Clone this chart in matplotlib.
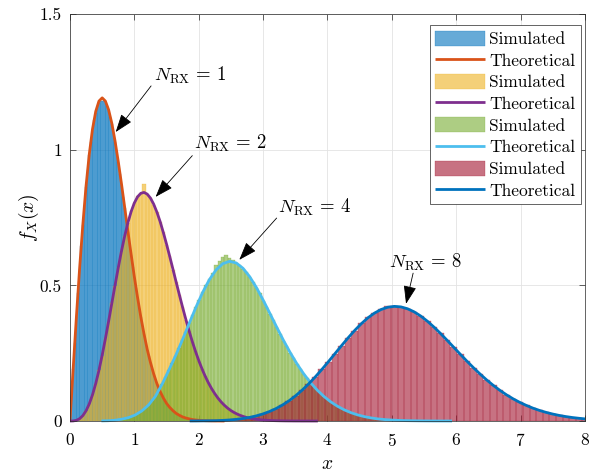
import numpy as np
import matplotlib
matplotlib.use("Agg")
import matplotlib.pyplot as plt
from matplotlib.transforms import Bbox, TransformedBbox

plt.rcParams.update({
    "font.family": "serif",
    "font.serif": ["cmr10"],
    "mathtext.fontset": "cm",
    "axes.formatter.use_mathtext": True,
    "font.size": 12.5,
})

# ---- data (pdf values) ----
n_rx = [1, 2, 4, 8]

# simulated histograms: first bin centre, bin width, bin heights
sim1_start, sim1_step = 0.025, 0.025
sim1 = [0.096, 0.193, 0.288, 0.383, 0.472, 0.560, 0.645, 0.721, 0.796, 0.862, 0.925, 0.979,
        1.030, 1.070, 1.108, 1.136, 1.160, 1.172, 1.184, 1.180, 1.184, 1.172, 1.160, 1.142,
        1.120, 1.093, 1.062, 1.029, 0.992, 0.953, 0.912, 0.871, 0.826, 0.784, 0.739, 0.697,
        0.652, 0.611, 0.568, 0.529, 0.490, 0.453, 0.416, 0.383, 0.350, 0.319, 0.290, 0.263,
        0.238, 0.215, 0.193, 0.173, 0.154, 0.137, 0.122, 0.108, 0.095, 0.084, 0.074, 0.065,
        0.056, 0.049, 0.043, 0.037, 0.032, 0.028, 0.024, 0.021, 0.018, 0.015, 0.013, 0.011,
        0.0093, 0.008, 0.0066, 0.0055, 0.0047, 0.0038, 0.0033, 0.0027, 0.0022, 0.0018,
        0.0015, 0.0012, 0.0010, 0.0008, 0.0007, 0.0005]

sim2_start, sim2_step = 0.05, 0.05
sim2 = [0.0003, 0.0026, 0.0088, 0.0195, 0.0384, 0.0628, 0.0972, 0.1371, 0.1880, 0.2410,
        0.3045, 0.3660, 0.4350, 0.4990, 0.5670, 0.6245, 0.6835, 0.7290, 0.7735, 0.8020,
        0.8280, 0.8370, 0.8720, 0.8340, 0.8230, 0.7975, 0.7715, 0.7335, 0.6960, 0.6500,
        0.6075, 0.5570, 0.5125, 0.4630, 0.4195, 0.3730, 0.3335, 0.2915, 0.2575, 0.2220,
        0.1935, 0.1645, 0.1415, 0.1185, 0.1010, 0.0835, 0.0700, 0.0572, 0.0476, 0.0382,
        0.0316, 0.0250, 0.0204, 0.0160, 0.0128, 0.0100, 0.0079, 0.0060, 0.0047, 0.0036,
        0.0027, 0.0021, 0.0016, 0.0012, 0.0009, 0.0007]

sim4_start, sim4_step = 0.697, 0.0523665
sim4 = [0.0029, 0.0046, 0.0067, 0.0093, 0.0124, 0.0168, 0.0220, 0.0292, 0.0372, 0.0476,
        0.0592, 0.0742, 0.0907, 0.1125, 0.1356, 0.1612, 0.1875, 0.2140, 0.2405, 0.2700,
        0.2990, 0.3280, 0.3595, 0.3890, 0.4190, 0.4475, 0.4750, 0.4995, 0.5240, 0.5440,
        0.5750, 0.5900, 0.6050, 0.6120, 0.6000, 0.5920, 0.5830, 0.5740, 0.5610, 0.5490,
        0.5300, 0.5130, 0.4900, 0.4700, 0.4440, 0.4215, 0.3950, 0.3720, 0.3450, 0.3225,
        0.2965, 0.2755, 0.2515, 0.2320, 0.2100, 0.1930, 0.1735, 0.1585, 0.1410, 0.1285,
        0.1135, 0.1025, 0.0902, 0.0808, 0.0705, 0.0628, 0.0545, 0.0479, 0.0412, 0.0360,
        0.0308, 0.0266, 0.0225, 0.0193, 0.0161, 0.0137, 0.0114, 0.0095, 0.0078, 0.0065,
        0.0053, 0.0044, 0.0036, 0.0030, 0.0024, 0.0019, 0.0015]

sim8_start, sim8_step = 1.9625, 0.102514
sim8 = [0.0003, 0.0006, 0.0009, 0.0014, 0.0023, 0.0039, 0.0061, 0.0092, 0.0128, 0.0186,
        0.0251, 0.0346, 0.0447, 0.0586, 0.0735, 0.0926, 0.1126, 0.1370, 0.1615, 0.1900,
        0.2178, 0.2488, 0.2772, 0.3072, 0.3335, 0.3595, 0.3815, 0.3990, 0.4135, 0.4230,
        0.4255, 0.4215, 0.4130, 0.4030, 0.3862, 0.3688, 0.3455, 0.3232, 0.2968, 0.2722,
        0.2452, 0.2210, 0.1958, 0.1735, 0.1508, 0.1316, 0.1126, 0.0968, 0.0815, 0.0690,
        0.0573, 0.0477, 0.0388, 0.0320, 0.0255, 0.0207, 0.0162, 0.0129, 0.0099, 0.0077,
        0.0058, 0.0044]

# theoretical curves: first x, x step, pdf values
th1_start, th1_step = 0.0, 0.05
th1 = [0.0, 0.195, 0.385, 0.564, 0.725, 0.867, 0.984, 1.076, 1.141, 1.179, 1.191, 1.179,
       1.147, 1.097, 1.032, 0.956, 0.874, 0.787, 0.699, 0.614, 0.531, 0.455, 0.384, 0.321,
       0.264, 0.216, 0.174, 0.138, 0.109, 0.085, 0.065, 0.050, 0.038, 0.028, 0.021, 0.015,
       0.011, 0.008, 0.0055, 0.0038, 0.0027, 0.0018, 0.0012, 0.0008, 0.0005, 0.0003, 0.0002,
       0.0001, 0.0]

th2_start, th2_step = 0.0, 0.05
th2 = [0.0, 0.0003, 0.0025, 0.0086, 0.0199, 0.0379, 0.0633, 0.0967, 0.1380, 0.1870, 0.2424,
       0.3031, 0.3675, 0.4339, 0.5005, 0.5653, 0.6263, 0.6819, 0.7310, 0.7719, 0.8038, 0.8264,
       0.8392, 0.8425, 0.8362, 0.8216, 0.7992, 0.7699, 0.7351, 0.6947, 0.6517, 0.6059, 0.5588,
       0.5112, 0.4643, 0.4184, 0.3741, 0.3322, 0.2929, 0.2565, 0.2230, 0.1926, 0.1652, 0.1408,
       0.1193, 0.1005, 0.0839, 0.0697, 0.0576, 0.0472, 0.0385, 0.0313, 0.0252, 0.0202, 0.0161,
       0.0127, 0.0101, 0.0078, 0.0061, 0.0047, 0.0036, 0.0027, 0.0021, 0.0016, 0.0012, 0.0009,
       0.0007, 0.0005, 0.0004, 0.0003, 0.0002, 0.0002, 0.0001, 0.0001, 0.0001, 0.0, 0.0, 0.0]

th4_start, th4_step = 0.488, 0.104733
th4 = [0.0004, 0.0010, 0.0029, 0.0067, 0.0124, 0.0220, 0.0372, 0.0592, 0.0907, 0.1356, 0.1875,
       0.2405, 0.2984, 0.3586, 0.4180, 0.4732, 0.5204, 0.5567, 0.5799, 0.5885, 0.5825, 0.5629,
       0.5317, 0.4915, 0.4453, 0.3959, 0.3459, 0.2975, 0.2522, 0.2108, 0.1740, 0.1418, 0.1141,
       0.0906, 0.0709, 0.0547, 0.0414, 0.0309, 0.0226, 0.0162, 0.0114, 0.0078, 0.0053, 0.0036,
       0.0024, 0.0015, 0.0010, 0.0006, 0.0004, 0.0002, 0.0001, 0.0001, 0.0]

th8_start, th8_step = 1.86, 0.102514
th8 = [0.0002, 0.0003, 0.0006, 0.0009, 0.0013, 0.0023, 0.0038, 0.0060, 0.0090, 0.0130, 0.0184,
       0.0254, 0.0342, 0.0450, 0.0582, 0.0738, 0.0922, 0.1130, 0.1364, 0.1620, 0.1894, 0.2183,
       0.2481, 0.2777, 0.3066, 0.3339, 0.3587, 0.3803, 0.3979, 0.4110, 0.4193, 0.4225, 0.4206,
       0.4137, 0.4024, 0.3869, 0.3680, 0.3463, 0.3226, 0.2975, 0.2718, 0.2459, 0.2206, 0.1962,
       0.1730, 0.1512, 0.1312, 0.1130, 0.0965, 0.0818, 0.0688, 0.0575, 0.0475, 0.0390, 0.0318,
       0.0257, 0.0205, 0.0163, 0.0128, 0.0100, 0.0076, 0.0059, 0.0044, 0.0033, 0.0024]

sims = [(sim1_start, sim1_step, sim1), (sim2_start, sim2_step, sim2),
        (sim4_start, sim4_step, sim4), (sim8_start, sim8_step, sim8)]
theos = [(th1_start, th1_step, th1), (th2_start, th2_step, th2),
         (th4_start, th4_step, th4), (th8_start, th8_step, th8)]

bar_colors = ["#0072BD", "#EDB120", "#77AC30", "#A2142F"]
line_colors = ["#D95319", "#7E2F8E", "#4DBEEE", "#0072BD"]

# label text position, arrow tail, arrow head (data coords)
notes = {
    1: ((1.30, 1.272), (1.26, 1.235), (0.71, 1.065)),
    2: ((1.92, 1.022), (1.90, 0.978), (1.33, 0.826)),
    4: ((3.23, 0.787), (3.21, 0.748), (2.63, 0.594)),
    8: ((4.95, 0.585), (5.33, 0.545), (5.22, 0.432)),
}

fig = plt.figure(figsize=(6.08, 4.73), dpi=100)
ax = fig.add_axes([0.1151, 0.1099, 0.8471, 0.8605])

clip = TransformedBbox(Bbox([[0, -0.012], [1, 1]]), ax.transAxes)

handles = []
for (s0, ds, h), (t0, dt, y), bc, lc in zip(sims, theos, bar_colors, line_colors):
    centers = s0 + ds * np.arange(len(h))
    bars = ax.bar(centers, h, width=ds, color=bc, alpha=0.6, edgecolor=bc,
                  linewidth=0.3, label="Simulated")
    x = t0 + dt * np.arange(len(y))
    line, = ax.plot(x, y, color=lc, lw=2.0, label="Theoretical", solid_capstyle="butt")
    line.set_clip_box(clip)
    handles += [bars, line]

for n in n_rx:
    txt, tail, head = notes[n]
    ax.text(txt[0], txt[1], rf"$N_{{\rm RX}}\,=\,{n}$", fontsize=13.5, ha="left", va="center")
    ax.annotate("", xy=head, xytext=tail,
                arrowprops=dict(arrowstyle="-|>,head_length=0.9,head_width=0.32",
                                color="black", lw=0.6, shrinkA=0, shrinkB=0))

ax.set_xlim(0, 8)
ax.set_ylim(0, 1.5)
ax.set_xticks(range(9))
ax.set_yticks([0, 0.5, 1, 1.5])
ax.set_yticklabels(["0", "0.5", "1", "1.5"])
ax.tick_params(direction="in", top=True, right=True, length=4, width=0.5,
               color="#262626", labelsize=12.5)
ax.tick_params(axis="x", pad=8)
ax.tick_params(axis="y", pad=6)
ax.grid(True, color="#e3e3e3", lw=0.6)
ax.set_axisbelow(True)
for sp in ax.spines.values():
    sp.set_color("#262626")
    sp.set_linewidth(0.5)

ax.set_xlabel("$x$", fontsize=14, labelpad=4)
ax.set_ylabel("$f_X(x)$", fontsize=14, labelpad=-1)

leg = ax.legend(handles, [hd.get_label() for hd in handles], loc="upper right",
                bbox_to_anchor=(0.9913, 0.972), borderaxespad=0,
                fontsize=12.5, handlelength=2.85, handleheight=0.95,
                handletextpad=0.25, labelspacing=0.3, borderpad=0.3,
                fancybox=False, edgecolor="#262626", framealpha=1)
leg.get_frame().set_linewidth(0.5)

fig.savefig("out.png", dpi=100)
